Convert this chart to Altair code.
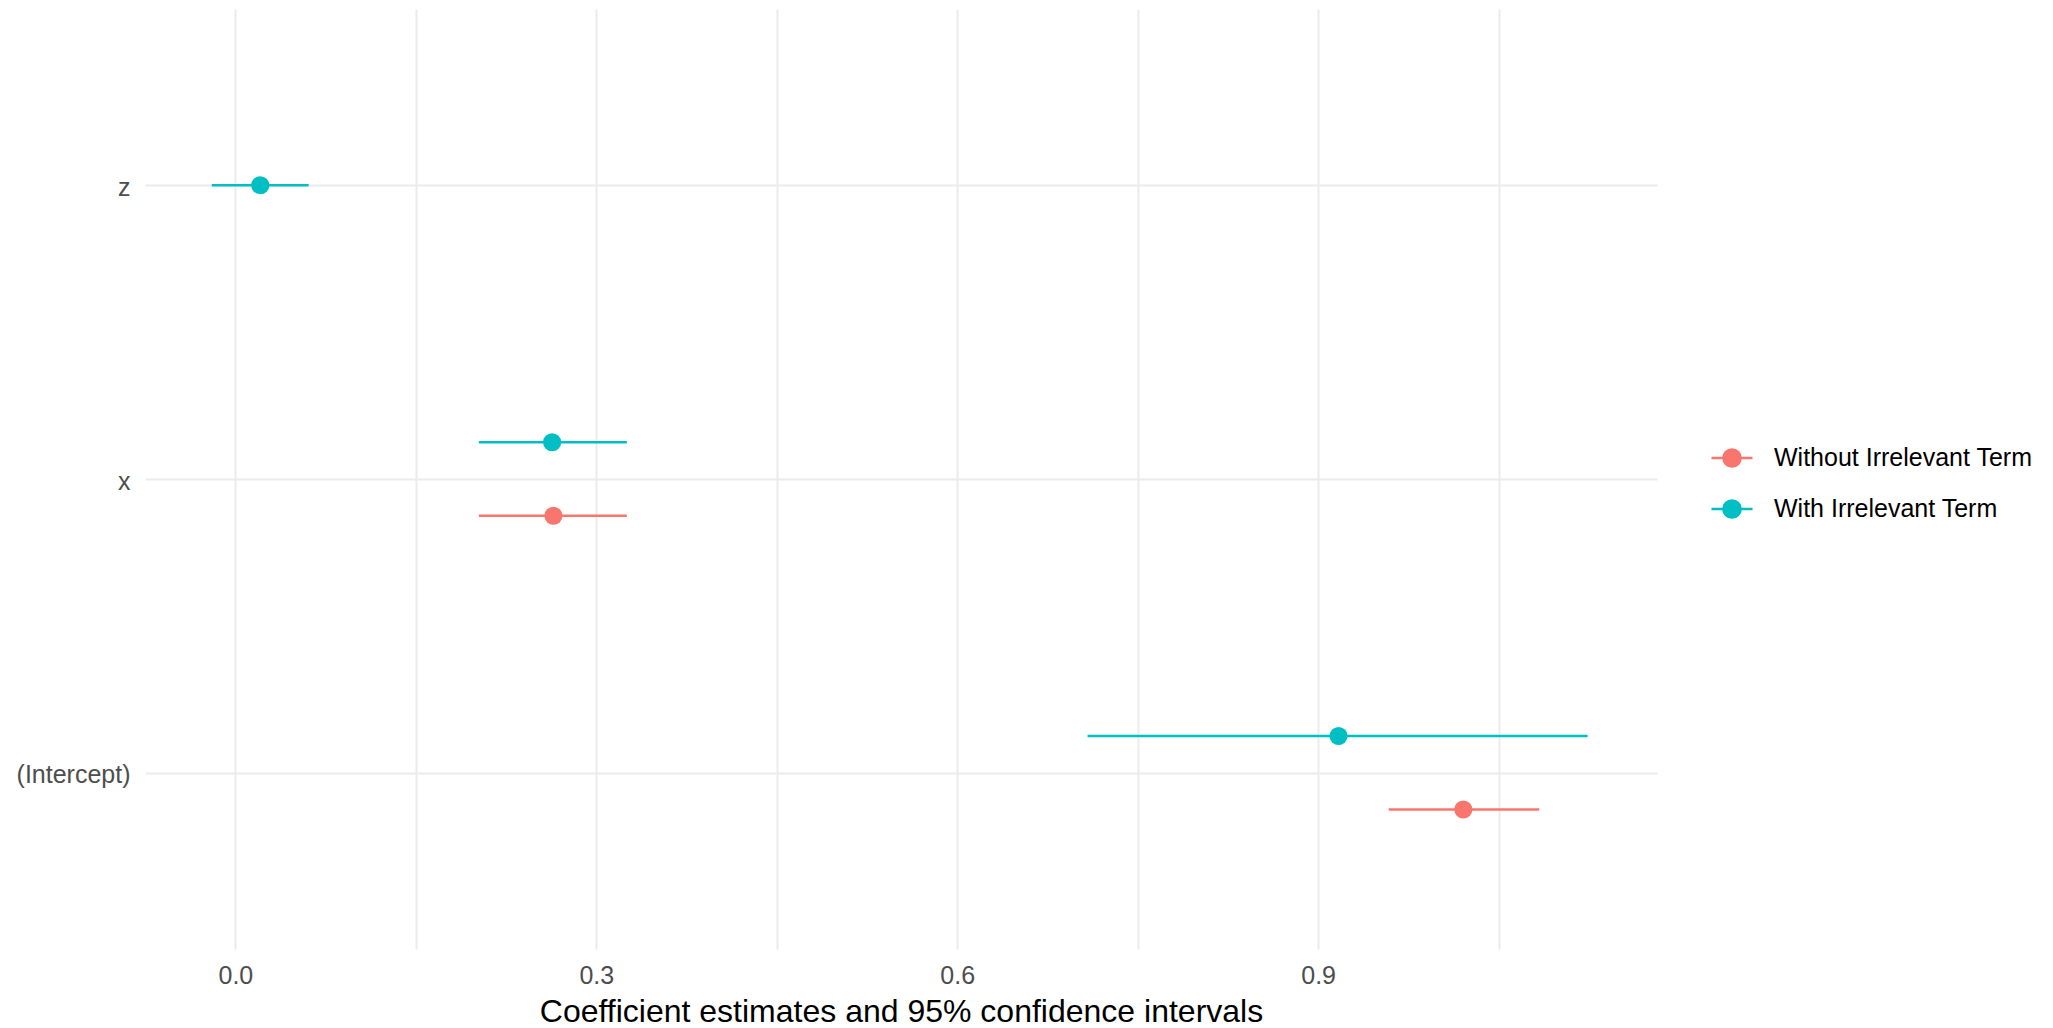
import altair as alt
import pandas as pd

# ---- data ----
terms = ["(Intercept)", "x", "z", "(Intercept)", "x"]
models = ["With Irrelevant Term", "With Irrelevant Term", "With Irrelevant Term",
          "Without Irrelevant Term", "Without Irrelevant Term"]
estimates = [0.917, 0.2633, 0.0207, 1.0207, 0.2644]
lowers = [0.7084, 0.2024, -0.0196, 0.9587, 0.2024]
uppers = [1.1240, 0.3254, 0.0609, 1.0838, 0.3254]

term_order = ["z", "x", "(Intercept)"]
model_order = ["Without Irrelevant Term", "With Irrelevant Term"]
model_colors = ["#F8766D", "#00BFC4"]
x_ticks = [0.0, 0.15, 0.3, 0.45, 0.6, 0.75, 0.9, 1.05]

df = pd.DataFrame({"term": terms, "model": models, "estimate": estimates,
                   "lower": lowers, "upper": uppers})
# dodge: when a term has both models, With goes above, Without below
counts = df.groupby("term")["model"].transform("count")
df["dodge"] = [0 if c == 1 else (-1 if m == "With Irrelevant Term" else 1)
               for c, m in zip(counts, df["model"])]

FONT = "Liberation Sans"
W, H = 1512, 940
step = H / 3.2
dodge_px = 0.125 * step

legend_path = ("M -1 0 L 1 0 M 0.42 0 A 0.42 0.42 0 1 1 -0.42 0 "
               "A 0.42 0.42 0 1 1 0.42 0 Z")

x_enc = alt.X("estimate:Q",
              scale=alt.Scale(domain=[-0.0751, 1.1817], nice=False, zero=False),
              axis=alt.Axis(values=x_ticks,
                            labelExpr="round(datum.value*20) % 6 == 0 ? format(datum.value, '.1f') : ''",
                            title="Coefficient estimates and 95% confidence intervals",
                            grid=True, ticks=False, domain=False,
                            labelPadding=14, titlePadding=8))
y_enc = alt.Y("term:N", sort=term_order,
              scale=alt.Scale(type="point", padding=0.6),
              axis=alt.Axis(title=None, grid=True, ticks=False, domain=False,
                            labelPadding=15, labelOffset=2))
yoff = alt.YOffset("dodge:Q", scale=alt.Scale(domain=[-1, 1], range=[-dodge_px, dodge_px]))
color = alt.Color("model:N",
                  scale=alt.Scale(domain=model_order, range=model_colors),
                  legend=alt.Legend(title=None, orient="none", legendX=1565, legendY=427,
                                    symbolType=legend_path, symbolSize=1681,
                                    symbolStrokeWidth=2.5, symbolOpacity=1,
                                    labelFontSize=25, labelColor="black", labelFont=FONT,
                                    labelOffset=20, rowPadding=15, padding=0, labelLimit=0))

base = alt.Chart(df)
rules = base.mark_rule(strokeWidth=2.5).encode(
    x=alt.X("lower:Q"), x2="upper:Q", y=y_enc, yOffset=yoff, color=color)
points = base.mark_point(filled=True, size=330, opacity=1, strokeWidth=0).encode(
    x=x_enc, y=y_enc, yOffset=yoff, color=color)

chart = alt.layer(rules, points).properties(
    width=W, height=H, autosize=alt.AutoSizeParams(type="none"),
    padding={"left": 145, "top": 9, "right": 396, "bottom": 79}
).configure_view(stroke=None).configure_axis(
    gridColor="#EBEBEB", gridWidth=2, labelFont=FONT, labelFontSize=25,
    labelColor="#4D4D4D", titleFont=FONT, titleFontSize=32, titleColor="black",
    titleFontWeight="normal"
)

chart.save("out.html", embed_options={"renderer": "svg", "actions": False})
